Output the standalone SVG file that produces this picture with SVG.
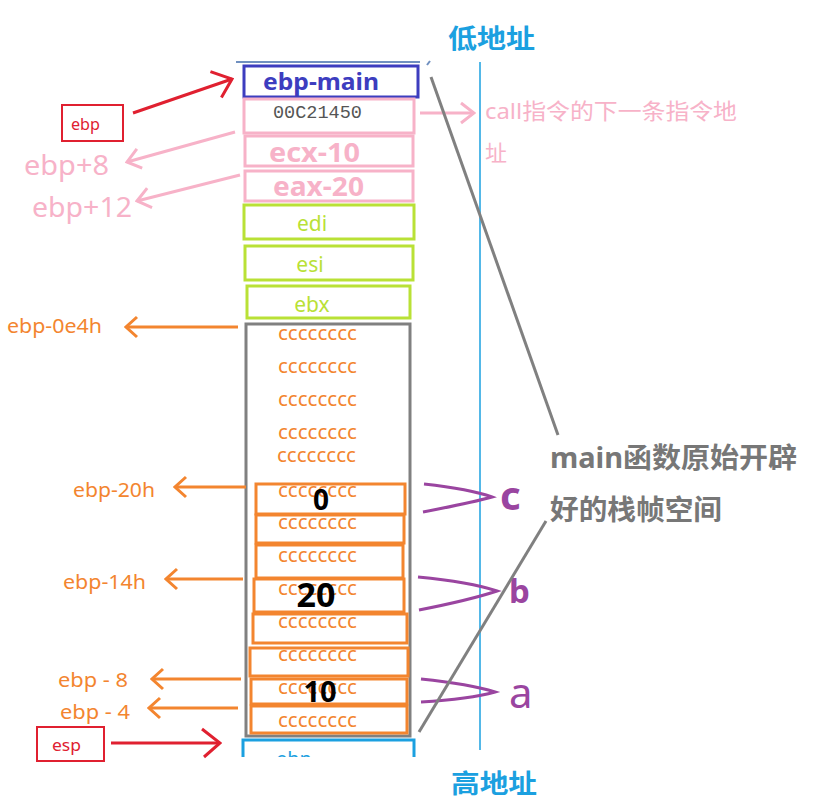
<svg xmlns="http://www.w3.org/2000/svg" width="814" height="807" viewBox="0 0 814 807">
<style>
text{font-family:"Noto Sans","Noto Sans CJK SC",sans-serif}
.box{fill:none;stroke-width:3}
.pk{stroke:#f7b2c8}
.gr{stroke:#b9e136}
.or{stroke:#f3852f}
.ct{fill:#f3852f;font-size:20px}
.num{fill:#000;font-weight:bold;text-anchor:middle}
.ln{fill:none;stroke-width:3}
.olab{fill:#f3852f;font-size:20px}
.plab{fill:#f7b2c8;font-size:27px}
.reg{fill:#b9e136;font-size:21px;text-anchor:middle}
</style>
<defs>
<marker id="mOr" viewBox="-14 -14 16 28" refX="0" refY="0" markerWidth="16" markerHeight="28" markerUnits="userSpaceOnUse" orient="auto"><path d="M-11,-10 L0,0 L-11,10" fill="none" stroke="#f3852f" stroke-width="3"/></marker>
<marker id="mPk" viewBox="-16 -14 18 28" refX="0" refY="0" markerWidth="18" markerHeight="28" markerUnits="userSpaceOnUse" orient="auto"><path d="M-13,-10 L0,0 L-13,10" fill="none" stroke="#f7b2c8" stroke-width="3"/></marker>
<marker id="mRd" viewBox="-20 -18 22 36" refX="0" refY="0" markerWidth="22" markerHeight="36" markerUnits="userSpaceOnUse" orient="auto"><path d="M-18,-14 L0,0 L-16,14" fill="none" stroke="#e02030" stroke-width="3"/></marker>
<clipPath id="cut"><rect x="0" y="0" width="814" height="757"/></clipPath>
</defs>
<rect width="814" height="807" fill="#fff"/>

<g id="axis">
<line x1="236" y1="62" x2="420" y2="62" stroke="#7090c0" stroke-width="2"/>
<line x1="427" y1="65" x2="430" y2="61" stroke="#7090c0" stroke-width="2"/>
<line x1="480" y1="62" x2="480" y2="750" stroke="#1ba0e0" stroke-width="1.5"/>
<text x="448" y="48" font-size="26" font-weight="bold" fill="#1ba0e0" textLength="87" lengthAdjust="spacingAndGlyphs">低地址</text>
<text x="451" y="793" font-size="26" font-weight="bold" fill="#1ba0e0" textLength="86" lengthAdjust="spacingAndGlyphs">高地址</text>
</g>

<g id="ebp-main">
<rect class="box" x="244" y="66" width="174" height="31" stroke="#3d3dbf"/>
<text x="263" y="90" font-size="23" font-weight="bold" fill="#3d3dbf" textLength="116" lengthAdjust="spacingAndGlyphs">ebp-main</text>
</g>
<g id="ret">
<rect class="box pk" x="244" y="99" width="170" height="34"/>
<text x="273" y="118" font-size="19" fill="#555" style="font-family:'Liberation Mono','DejaVu Sans Mono',monospace" textLength="89" lengthAdjust="spacingAndGlyphs">00C21450</text>
</g>
<g id="ecx">
<rect class="box pk" x="245" y="136" width="168" height="30"/>
<text x="269" y="162" font-size="26" font-weight="bold" fill="#f7b2c8" textLength="91" lengthAdjust="spacingAndGlyphs">ecx-10</text>
</g>
<g id="eax">
<rect class="box pk" x="245" y="171" width="168" height="30"/>
<text x="273" y="196" font-size="26" font-weight="bold" fill="#f7b2c8" textLength="91" lengthAdjust="spacingAndGlyphs">eax-20</text>
</g>
<g id="edi">
<rect class="box gr" x="244" y="205" width="170" height="34"/>
<text class="reg" x="312" y="231">edi</text>
</g>
<g id="esi">
<rect class="box gr" x="245" y="246" width="168" height="34"/>
<text class="reg" x="310" y="272">esi</text>
</g>
<g id="ebx">
<rect class="box gr" x="247" y="286" width="163" height="32"/>
<text class="reg" x="312" y="312">ebx</text>
</g>

<g id="frame">
<rect x="246" y="324" width="164" height="412" fill="none" stroke="#808080" stroke-width="3"/>
<text class="ct" x="278" y="340" textLength="79" lengthAdjust="spacingAndGlyphs">cccccccc</text>
<text class="ct" x="278" y="373" textLength="79" lengthAdjust="spacingAndGlyphs">cccccccc</text>
<text class="ct" x="278" y="406" textLength="79" lengthAdjust="spacingAndGlyphs">cccccccc</text>
<text class="ct" x="278" y="439" textLength="79" lengthAdjust="spacingAndGlyphs">cccccccc</text>
<text class="ct" x="277" y="462" textLength="79" lengthAdjust="spacingAndGlyphs">cccccccc</text>
</g>
<g id="slot-c">
<rect class="box or" x="256" y="484" width="149" height="30"/>
<text class="ct" x="278" y="497" textLength="79" lengthAdjust="spacingAndGlyphs">cccccccc</text>
<text class="num" x="321" y="510" font-size="28">0</text>
</g>
<g id="slot2">
<rect class="box or" x="256" y="515" width="148" height="28"/>
<text class="ct" x="278" y="529" textLength="79" lengthAdjust="spacingAndGlyphs">cccccccc</text>
</g>
<g id="slot3">
<rect class="box or" x="256" y="545" width="147" height="33"/>
<text class="ct" x="278" y="562" textLength="79" lengthAdjust="spacingAndGlyphs">cccccccc</text>
</g>
<g id="slot-b">
<rect class="box or" x="254" y="579" width="150" height="33"/>
<text class="ct" x="278" y="595" textLength="79" lengthAdjust="spacingAndGlyphs">cccccccc</text>
<text class="num" x="316" y="607" font-size="34">20</text>
</g>
<g id="slot5">
<rect class="box or" x="253" y="614" width="154" height="29"/>
<text class="ct" x="278" y="628" textLength="79" lengthAdjust="spacingAndGlyphs">cccccccc</text>
</g>
<g id="slot6">
<rect class="box or" x="250" y="648" width="158" height="28"/>
<text class="ct" x="278" y="661" textLength="79" lengthAdjust="spacingAndGlyphs">cccccccc</text>
</g>
<g id="slot-a">
<rect class="box or" x="251" y="679" width="156" height="25"/>
<text class="ct" x="278" y="694" textLength="79" lengthAdjust="spacingAndGlyphs">cccccccc</text>
<text class="num" x="320" y="702" font-size="29">10</text>
</g>
<g id="slot8">
<rect class="box or" x="251" y="706" width="156" height="27"/>
<text class="ct" x="278" y="727" textLength="79" lengthAdjust="spacingAndGlyphs">cccccccc</text>
</g>
<g id="caller" clip-path="url(#cut)">
<rect x="243" y="740" width="171" height="40" fill="none" stroke="#1ba0e0" stroke-width="3"/>
<text x="276" y="766" font-size="20" fill="#1ba0e0">ebp</text>
</g>

<g id="ebp-reg">
<rect x="62" y="105" width="61" height="36" fill="none" stroke="#e02030" stroke-width="2"/>
<text x="71" y="130" font-size="17" fill="#e02030" textLength="29" lengthAdjust="spacingAndGlyphs">ebp</text>
</g>
<g id="esp-reg">
<rect x="37" y="727" width="67" height="34" fill="none" stroke="#e02030" stroke-width="2"/>
<text x="52" y="751" font-size="17" fill="#e02030" textLength="29" lengthAdjust="spacingAndGlyphs">esp</text>
</g>

<g id="labels">
<text x="485" y="119" font-size="22" fill="#f7b2c8" textLength="252" lengthAdjust="spacingAndGlyphs">call指令的下一条指令地</text>
<text x="485" y="161" font-size="22" fill="#f7b2c8">址</text>
<text class="plab" x="24" y="175" textLength="85" lengthAdjust="spacingAndGlyphs">ebp+8</text>
<text class="plab" x="32" y="217" textLength="100" lengthAdjust="spacingAndGlyphs">ebp+12</text>
<text class="olab" x="7" y="333" textLength="95" lengthAdjust="spacingAndGlyphs">ebp-0e4h</text>
<text class="olab" x="73" y="497" textLength="82" lengthAdjust="spacingAndGlyphs">ebp-20h</text>
<text class="olab" x="63" y="589" textLength="83" lengthAdjust="spacingAndGlyphs">ebp-14h</text>
<text class="olab" x="58" y="687" textLength="70" lengthAdjust="spacingAndGlyphs">ebp - 8</text>
<text class="olab" x="60" y="719" textLength="70" lengthAdjust="spacingAndGlyphs">ebp - 4</text>
<text x="500" y="510" font-size="40" font-weight="bold" fill="#9a45a0">c</text>
<text x="509" y="603" font-size="33" font-weight="bold" fill="#9a45a0">b</text>
<text x="509" y="708" font-size="42" fill="#9a45a0">a</text>
<text x="550" y="468" font-size="28" font-weight="bold" fill="#777" textLength="247" lengthAdjust="spacingAndGlyphs">main函数原始开辟</text>
<text x="550" y="520" font-size="28" font-weight="bold" fill="#777" textLength="172" lengthAdjust="spacingAndGlyphs">好的栈帧空间</text>
</g>

<g id="connectors">
<line class="ln" x1="133" y1="113" x2="232" y2="79" stroke="#e02030" marker-end="url(#mRd)"/>
<line class="ln" x1="111" y1="743" x2="220" y2="743" stroke="#e02030" marker-end="url(#mRd)"/>
<line class="ln" x1="420" y1="113" x2="474" y2="113" stroke="#f7b2c8" marker-end="url(#mPk)"/>
<line class="ln" x1="235" y1="132" x2="127" y2="162" stroke="#f7b2c8" marker-end="url(#mPk)"/>
<line class="ln" x1="240" y1="175" x2="137" y2="201" stroke="#f7b2c8" marker-end="url(#mPk)"/>
<line class="ln" x1="238" y1="327" x2="126" y2="327" stroke="#f3852f" marker-end="url(#mOr)"/>
<line class="ln" x1="246" y1="487" x2="175" y2="487" stroke="#f3852f" marker-end="url(#mOr)"/>
<line class="ln" x1="243" y1="579" x2="166" y2="579" stroke="#f3852f" marker-end="url(#mOr)"/>
<line class="ln" x1="241" y1="679" x2="152" y2="679" stroke="#f3852f" marker-end="url(#mOr)"/>
<line class="ln" x1="238" y1="708" x2="149" y2="708" stroke="#f3852f" marker-end="url(#mOr)"/>
<path class="ln" d="M424,484 Q470,489 492,497 Q470,503 423,512" stroke="#9a45a0"/>
<path class="ln" d="M418,577 Q470,582 497,591 Q470,600 419,610" stroke="#9a45a0"/>
<path class="ln" d="M421,679 Q470,684 495,692 Q470,699 421,702" stroke="#9a45a0"/>
<line x1="431" y1="77" x2="558" y2="435" stroke="#808080" stroke-width="3"/>
<line x1="419" y1="732" x2="546" y2="521" stroke="#808080" stroke-width="3"/>
</g>
</svg>
